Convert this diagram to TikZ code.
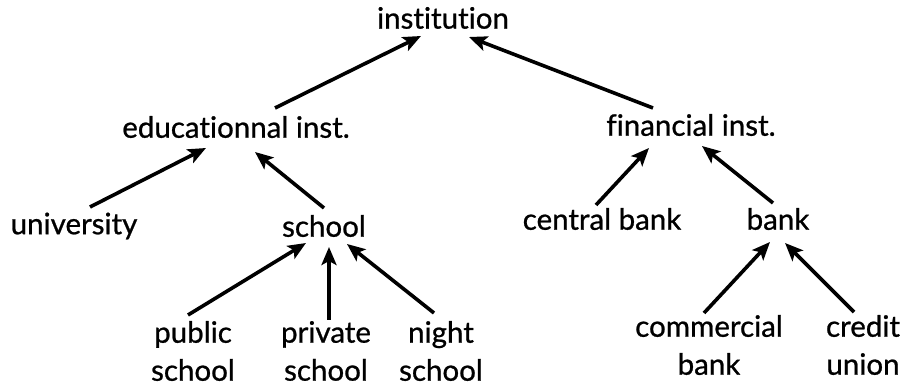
\documentclass[tikz,border=0pt]{standalone}
\usepackage{fontspec}
\setmainfont{Lato}[FakeBold=0.8,Ligatures=NoCommon]
\usetikzlibrary{arrows.meta,calc}
\begin{document}
\begin{tikzpicture}[x=1pt,y=-1pt,
  lbl/.style={inner sep=0pt,align=center,font=\fontsize{29.5}{38}\selectfont},
  arr/.style={line width=3.6pt,-{Stealth[length=18pt,width=15pt,inset=4pt]}}]
\useasboundingbox (0,0) rectangle (908,387);
\node[lbl] (inst) at (443,18) {institution};
\node[lbl] (educ) at (236,127) {educationnal inst.};
\node[lbl] (fin) at (691,125) {financial inst.};
\node[lbl] (univ) at (74,226) {university};
\node[lbl] (school) at (324,226) {school};
\node[lbl] (cbank) at (602,219) {central bank};
\node[lbl] (bank) at (778,219) {bank};
\node[lbl] (public) at (193,351) {public\\school};
\node[lbl] (private) at (326,351) {private\\school};
\node[lbl] (night) at (441,351) {night\\school};
\node[lbl] (comm) at (709,345) {commercial\\bank};
\node[lbl] (credit) at (863,345) {credit\\union};
\draw[arr] ($(educ)+(39,-19)$) -- ($(inst)+(-22,18)$);
\draw[arr] ($(fin)+(-38,-17)$) -- ($(inst)+(26,19)$);
\draw[arr] ($(univ)+(16,-19)$) -- ($(educ)+(-30,21)$);
\draw[arr] ($(school)+(0,-18)$) -- ($(educ)+(19,25)$);
\draw[arr] ($(cbank)+(-6,-14)$) -- ($(fin)+(-42,23)$);
\draw[arr] ($(bank)+(-5,-16)$) -- ($(fin)+(11,21)$);
\draw[arr] ($(public)+(-5,-36)$) -- ($(school)+(-18,17)$);
\draw[arr] ($(private)+(3,-31)$) -- ($(school)+(5,21)$);
\draw[arr] ($(night)+(-7,-38)$) -- ($(school)+(23,18)$);
\draw[arr] ($(comm)+(-5,-32)$) -- ($(bank)+(-8,23)$);
\draw[arr] ($(credit)+(-9,-33)$) -- ($(bank)+(7,24)$);
\end{tikzpicture}
\end{document}
